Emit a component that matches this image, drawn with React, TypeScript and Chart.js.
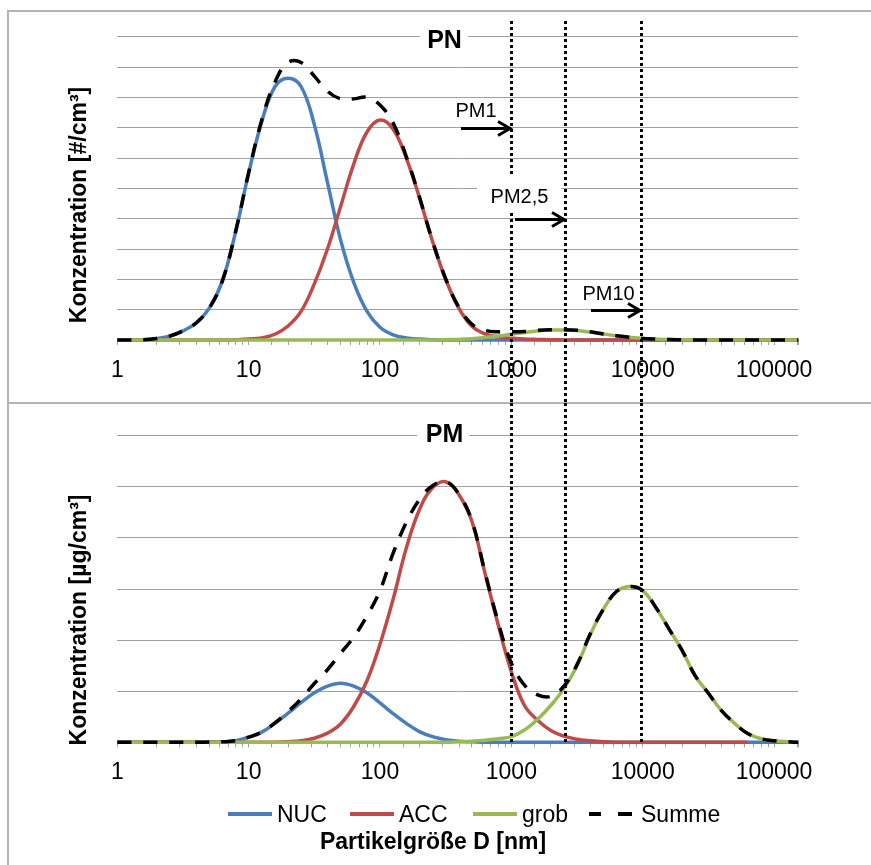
import React, { useEffect, useRef } from 'react';
import { Chart, registerables } from 'chart.js';

Chart.register(...registerables);

const FONT = "'Liberation Sans', Arial, sans-serif";
const GRID = '#a0a0a0';

// particle diameters in nm (shared x values)
const DIAMETERS = [
  1, 1.259, 1.585, 1.995, 2.512, 3.162, 3.981, 5.012, 6.31, 7.943,
  10, 12.59, 15.85, 19.95, 25.12, 31.62, 39.81, 50.12, 63.1, 79.43,
  100, 125.9, 158.5, 199.5, 251.2, 316.2, 398.1, 501.2, 631, 794.3,
  1000, 1259, 1585, 1995, 2512, 3162, 3981, 5012, 6310, 7943,
  10000, 12589, 15849, 19953, 25119, 31623, 39811, 50119, 63096, 79433,
  100000, 125893, 153000,
];

const X_TICK_LABELS = ['1', '10', '100', '1000', '10000', '100000'];
const SERIES_NAMES = ['NUC', 'ACC', 'grob', 'Summe'];
const SERIES_COLORS = ['#4A7EBB', '#BE4B48', '#98B954', '#000000'];

// ---- PN panel (number concentration, grid units) ----
const NUC_PN = [
  0, 0, 0.01, 0.05, 0.13, 0.3, 0.56, 1.05, 1.95, 3.55,
  5.5, 7.2, 8.35, 8.63, 8.35, 7.1, 5.2, 3.3, 1.9, 0.95,
  0.42, 0.17, 0.07, 0.03, 0.01, 0, 0, 0, 0, 0,
  0, 0, 0, 0, 0, 0, 0, 0, 0, 0,
  0, 0, 0, 0, 0, 0, 0, 0, 0, 0,
  0, 0, 0,
];
const ACC_PN = [
  0, 0, 0, 0, 0, 0, 0, 0, 0, 0.01,
  0.03, 0.07, 0.19, 0.46, 0.95, 1.85, 3.0, 4.4, 5.8, 6.85,
  7.25, 6.95, 6.0, 4.7, 3.25, 2.0, 1.05, 0.45, 0.2, 0.1,
  0.06, 0.03, 0.02, 0.01, 0, 0, 0, 0, 0, 0,
  0, 0, 0, 0, 0, 0, 0, 0, 0, 0,
  0, 0, 0,
];
const GROB_PN = [
  0, 0, 0, 0, 0, 0, 0, 0, 0, 0,
  0, 0, 0, 0, 0, 0, 0, 0, 0, 0,
  0, 0, 0, 0, 0, 0.01, 0.02, 0.04, 0.08, 0.13,
  0.19, 0.25, 0.3, 0.33, 0.33, 0.31, 0.26, 0.2, 0.14, 0.09,
  0.05, 0.03, 0.015, 0.01, 0, 0, 0, 0, 0, 0,
  0, 0, 0,
];
const SUM_PN = [
  0, 0, 0.01, 0.05, 0.13, 0.3, 0.56, 1.05, 1.95, 3.56,
  5.52, 7.25, 8.5, 9.15, 9.15, 8.7, 8.2, 7.95, 7.95, 8.0,
  7.75, 7.15, 6.05, 4.72, 3.26, 2.02, 1.08, 0.52, 0.32, 0.27,
  0.27, 0.28, 0.32, 0.34, 0.34, 0.32, 0.27, 0.2, 0.14, 0.09,
  0.05, 0.03, 0.015, 0.01, 0, 0, 0, 0, 0, 0,
  0, 0, 0,
];

// ---- PM panel (mass concentration, grid units) ----
const NUC_PM = [
  0, 0, 0, 0, 0, 0, 0, 0.005, 0.01, 0.03,
  0.1, 0.2, 0.37, 0.57, 0.78, 0.97, 1.1, 1.155, 1.1, 0.97,
  0.77, 0.56, 0.37, 0.21, 0.11, 0.05, 0.02, 0.01, 0, 0,
  0, 0, 0, 0, 0, 0, 0, 0, 0, 0,
  0, 0, 0, 0, 0, 0, 0, 0, 0, 0,
  0, 0, 0,
];
const ACC_PM = [
  0, 0, 0, 0, 0, 0, 0, 0, 0, 0,
  0, 0, 0, 0.01, 0.03, 0.08, 0.18, 0.36, 0.7, 1.2,
  1.92, 2.8, 3.8, 4.55, 4.98, 5.1, 4.85, 4.32, 3.3, 2.3,
  1.38, 0.72, 0.43, 0.23, 0.12, 0.06, 0.03, 0.01, 0, 0,
  0, 0, 0, 0, 0, 0, 0, 0, 0, null,
  null, null, null,
];
const GROB_PM = [
  0, 0, 0, 0, 0, 0, 0, 0, 0, 0,
  0, 0, 0, 0, 0, 0, 0, 0, 0, 0,
  0, 0, 0, 0, 0, 0, 0.01, 0.02, 0.04, 0.07,
  0.11, 0.24, 0.45, 0.72, 1.05, 1.5, 2.1, 2.6, 2.95, 3.05,
  2.97, 2.64, 2.22, 1.8, 1.3, 0.96, 0.62, 0.37, 0.17, 0.07,
  0.03, 0.01, 0,
];
const SUM_PM = [
  0, 0, 0, 0, 0, 0, 0, 0.005, 0.01, 0.03,
  0.1, 0.2, 0.38, 0.6, 0.85, 1.15, 1.42, 1.74, 2.06, 2.47,
  2.97, 3.7, 4.3, 4.75, 5.02, 5.1, 4.86, 4.33, 3.32, 2.35,
  1.55, 1.12, 0.93, 0.9, 1.1, 1.52, 2.12, 2.6, 2.95, 3.05,
  2.97, 2.64, 2.22, 1.8, 1.3, 0.96, 0.62, 0.37, 0.17, 0.07,
  0.03, 0.01, 0,
];

const PN_Y_MAX = 10;
const PM_Y_MAX = 6;
const X_MIN = 1;
const X_MAX = 153000;

const PANEL_TITLES = ['PN', 'PM'];
const Y_TITLES = ['Konzentration [#/cm³]', 'Konzentration [µg/cm³]'];
const X_TITLE = 'Partikelgröße D [nm]';
const PM_LABELS = ['PM1', 'PM2,5', 'PM10'];
const PM_LIMITS_NM = [1000, 2550, 9650];
const PM_ARROW_LEVELS = [7, 4, 1];

function drawArrow(ctx: CanvasRenderingContext2D, x0: number, x1: number, y: number) {
  ctx.beginPath();
  ctx.moveTo(x0, y);
  ctx.lineTo(x1 - 2, y);
  ctx.stroke();
  ctx.beginPath();
  ctx.moveTo(x1 - 13, y - 7);
  ctx.lineTo(x1 - 1, y);
  ctx.lineTo(x1 - 13, y + 7);
  ctx.stroke();
}

function overlayPlugin(panel: number) {
  return {
    id: 'overlay' + panel,
    afterDatasetsDraw(chart: any) {
      const { ctx, chartArea, scales } = chart;
      const xs = scales.x;
      const ys = scales.y;
      ctx.save();
      // y-axis title
      ctx.fillStyle = '#000';
      ctx.font = `bold 23px ${FONT}`;
      ctx.textAlign = 'center';
      ctx.textBaseline = 'alphabetic';
      ctx.save();
      ctx.translate(80, panel === 0 ? 205 : 217);
      ctx.rotate(-Math.PI / 2);
      ctx.fillText(Y_TITLES[panel], 0, 6);
      ctx.restore();

      // dotted PM boundary lines
      ctx.strokeStyle = '#000';
      ctx.lineWidth = 3;
      ctx.setLineDash([3, 3]);
      const y0 = panel === 0 ? 21 : 0;
      const y1 = panel === 0 ? chart.height : chartArea.bottom + 2;
      const limitPx = PM_LIMITS_NM.map((v) => Math.round(xs.getPixelForValue(v)) + 0.5);
      limitPx.forEach((x) => {
        ctx.beginPath();
        ctx.moveTo(x, y0);
        ctx.lineTo(x, y1);
        ctx.stroke();
      });
      ctx.setLineDash([]);

      // panel title with white box
      const titleCx = 444.5;
      const titleBase = panel === 0 ? 48.3 : 38.7;
      ctx.fillStyle = '#fff';
      ctx.fillRect(panel === 0 ? 420 : 417, titleBase - 24, panel === 0 ? 48 : 52, 30);
      ctx.fillStyle = '#000';
      ctx.font = `bold 25px ${FONT}`;
      ctx.textAlign = 'center';
      ctx.fillText(PANEL_TITLES[panel], titleCx, titleBase);

      if (panel === 0) {
        const labelDx = [-35, -45.5, -32.5];
        const labelDy = [-11.7, -16.6, -11];
        ctx.font = `20px ${FONT}`;
        PM_LABELS.forEach((lab, i) => {
          const tip = limitPx[i] - 0.5;
          const ay = Math.round(ys.getPixelForValue(PM_ARROW_LEVELS[i])) + 0.5;
          const cx = tip + labelDx[i];
          const base = ay + labelDy[i];
          if (i === 1) {
            ctx.fillStyle = '#fff';
            ctx.fillRect(cx - 42.5, base - 28.7, 84, 38);
          }
          ctx.fillStyle = '#000';
          ctx.fillText(lab, cx, base);
          ctx.strokeStyle = '#000';
          ctx.lineWidth = 3;
          drawArrow(ctx, tip - 50, tip, ay);
        });
      }
      ctx.restore();
    },
  };
}

function buildChart(canvas: HTMLCanvasElement, series: (number | null)[][], yMax: number, panel: number) {
  const datasets = series.map((vals, i) => ({
    label: SERIES_NAMES[i],
    data: DIAMETERS.map((d, j) => ({ x: d, y: vals[j] })),
    borderColor: SERIES_COLORS[i],
    backgroundColor: SERIES_COLORS[i],
    borderWidth: 3.5,
    borderDash: i === 3 ? [14, 12] : [],
    borderCapStyle: 'butt',
    pointRadius: 0,
    pointHoverRadius: 0,
    tension: 0.4,
    fill: false,
    spanGaps: false,
    clip: 6,
    order: 4 - i,
  }));
  const axisHeight = panel === 0 ? 63 : 122.7;
  return new Chart(canvas, {
    type: 'line',
    data: { datasets } as any,
    options: {
      animation: false,
      responsive: false,
      devicePixelRatio: 1,
      events: [],
      layout: { padding: { left: 0, right: 72.7, top: panel === 0 ? 36.7 : 32.7, bottom: 0 } },
      plugins: {
        legend: { display: false },
        tooltip: { enabled: false },
        title: { display: false },
      },
      scales: {
        x: {
          type: 'logarithmic',
          min: X_MIN,
          max: X_MAX,
          afterFit: (s: any) => {
            s.height = axisHeight;
          },
          grid: { drawOnChartArea: false, drawTicks: true, tickLength: 5, color: GRID, lineWidth: 1 },
          border: { display: true, color: GRID, width: 1 },
          ticks: {
            autoSkip: false,
            maxRotation: 0,
            minRotation: 0,
            padding: 12,
            color: '#000',
            font: { family: FONT, size: 23 },
            callback: (v: any) => (X_TICK_LABELS.includes(String(v)) ? String(v) : ''),
          },
        },
        y: {
          min: 0,
          max: yMax,
          afterFit: (s: any) => {
            s.width = 117.3;
          },
          ticks: { display: false, stepSize: 1 },
          grid: { color: GRID, drawTicks: false, lineWidth: 1 },
          border: { display: false },
        },
      },
    } as any,
    plugins: [overlayPlugin(panel)],
  });
}

export default function App() {
  const topRef = useRef<HTMLCanvasElement>(null);
  const botRef = useRef<HTMLCanvasElement>(null);

  useEffect(() => {
    const c1 = buildChart(topRef.current!, [NUC_PN, ACC_PN, GROB_PN, SUM_PN], PN_Y_MAX, 0);
    const c2 = buildChart(botRef.current!, [NUC_PM, ACC_PM, GROB_PM, SUM_PM], PM_Y_MAX, 1);
    return () => {
      c1.destroy();
      c2.destroy();
    };
  }, []);

  const border = '#b4b4b4';
  const legendX = [228, 350, 473, 589];

  return (
    <div
      style={{
        position: 'fixed',
        left: 0,
        top: 0,
        width: 871,
        height: 865,
        background: '#fff',
        overflow: 'hidden',
        fontFamily: FONT,
        color: '#000',
      }}
    >
      <div style={{ position: 'absolute', left: 7, top: 10, width: 864, height: 2, background: border }} />
      <div style={{ position: 'absolute', left: 7, top: 402, width: 864, height: 2, background: border }} />
      <div style={{ position: 'absolute', left: 7, top: 10, width: 2, height: 855, background: border }} />
      <canvas ref={topRef} width={871} height={403} style={{ position: 'absolute', left: 0, top: 0 }} />
      <canvas ref={botRef} width={871} height={462} style={{ position: 'absolute', left: 0, top: 403 }} />
      {SERIES_NAMES.map((name, i) => {
        const left = legendX[i];
        return (
          <React.Fragment key={name}>
            {i < 3 ? (
              <div
                style={{ position: 'absolute', left, top: 812, width: 44, height: 4, background: SERIES_COLORS[i] }}
              />
            ) : (
              <>
                <div style={{ position: 'absolute', left, top: 812, width: 12, height: 4, background: '#000' }} />
                <div
                  style={{ position: 'absolute', left: left + 29, top: 812, width: 14, height: 4, background: '#000' }}
                />
              </>
            )}
            <div
              style={{
                position: 'absolute',
                left: left + (i < 3 ? 49 : 52),
                top: 802.5,
                fontSize: 23,
                lineHeight: '23px',
                whiteSpace: 'nowrap',
              }}
            >
              {name}
            </div>
          </React.Fragment>
        );
      })}
      <div
        style={{
          position: 'absolute',
          left: 0,
          width: 866,
          top: 830,
          textAlign: 'center',
          fontWeight: 'bold',
          fontSize: 23,
          lineHeight: '23px',
          whiteSpace: 'nowrap',
        }}
      >
        {X_TITLE}
      </div>
    </div>
  );
}
